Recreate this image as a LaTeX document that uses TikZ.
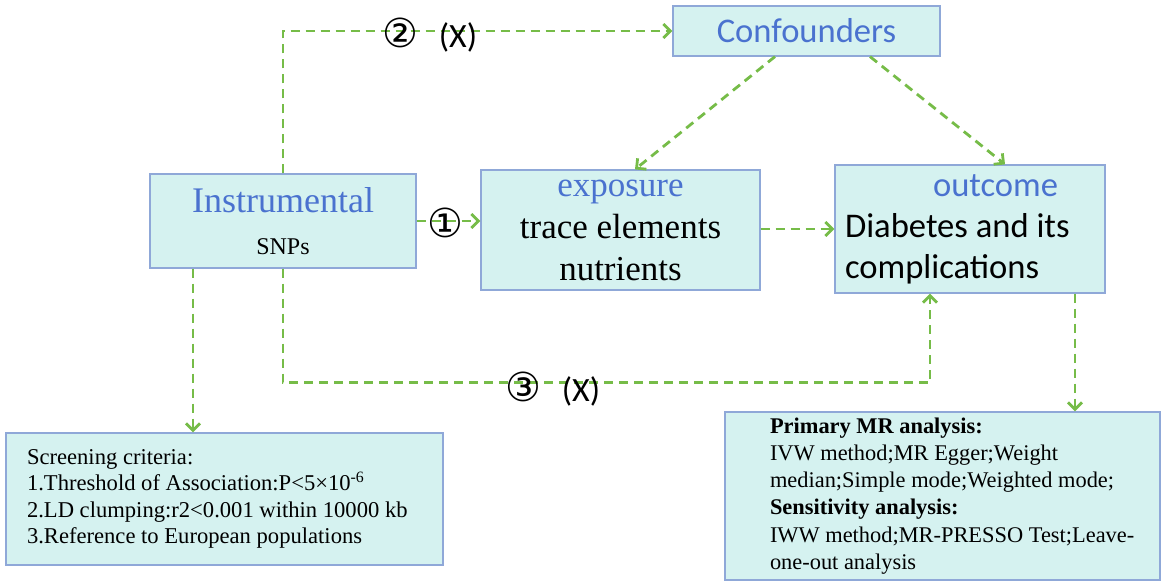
\documentclass[tikz,border=0pt]{standalone}
\usepackage{fontspec}
\setmainfont{Liberation Serif}
\newfontfamily\calibri{Carlito}
\newfontfamily\circfont{DejaVu Sans}
\usetikzlibrary{arrows.meta,calc,positioning}
\definecolor{boxfill}{HTML}{D5F2F0}
\definecolor{boxline}{HTML}{8FA8D8}
\definecolor{titleblue}{HTML}{4A72CF}
\definecolor{linkgreen}{HTML}{76BC48}

\begin{document}
\begin{tikzpicture}[>={Straight Barb[length=3.5pt,width=7pt]}, x=0.5pt, y=-0.5pt,
  box/.style={draw=boxline, fill=boxfill, line width=0.6pt, inner sep=0pt},
  link/.style={draw=linkgreen, line width=1.4pt, dash pattern=on 4.5pt off 3pt, ->},
  lbl/.style={font=\calibri\fontsize{17}{20}\selectfont, inner sep=0pt}]
  \useasboundingbox (0,0) rectangle (1170,587);
  % boxes
  \node[box, minimum width=133pt, minimum height=47pt, align=center,
    font=\fontsize{12}{21}\selectfont] (instr) at (283,221)
    {{\fontsize{18}{21}\selectfont\color{titleblue}Instrumental}\\{\fontsize{12}{21}\selectfont SNPs}};
  \node[box, minimum width=133.5pt, minimum height=25pt, text=titleblue,
    font=\calibri\fontsize{17.3}{20}\selectfont] (conf) at (806.5,31) {Confounders};
  \node[box, minimum width=139.5pt, minimum height=60pt, align=center,
    font=\fontsize{17.5}{21}\selectfont] (expo) at (620.5,230)
    {\textcolor{titleblue}{exposure}\\trace elements\\nutrients};
  \node[box, minimum width=135pt, minimum height=64pt, align=left, text width=125pt,
    font=\calibri\fontsize{17.3}{20.5}\selectfont] (outc) at (970,229)
    {\spaceskip=0pt\xspaceskip=0pt\hspace*{44pt}\textcolor{titleblue}{outcome}\\Diabetes and its\\complications};
  \node[box, inner xsep=10.5pt, text width=197.5pt, minimum height=66pt, align=left,
    font=\fontsize{11.3}{13.2}\selectfont] (screen) at (224.5,499)
    {\spaceskip=0pt\xspaceskip=0pt Screening criteria:\\1.Threshold of Association:P<5×10\textsuperscript{-6}\\2.LD clumping:r2<0.001 within 10000 kb\\3.Reference to European populations};
  \node[box, inner xsep=8.75pt, text width=200pt, minimum height=84pt, align=left,
    font=\fontsize{11.2}{13.6}\selectfont] (prim) at (942.5,496)
    {\spaceskip=0pt\xspaceskip=0pt\leftskip=13.75pt\textbf{Primary MR analysis:}\\IVW method;MR Egger;Weight\\median;Simple mode;Weighted mode;\\\textbf{Sensitivity analysis:}\\IWW method;MR-PRESSO Test;Leave-\\one-out analysis\par};
  % links
  \draw[link] (instr.north) |- (conf.west);
  \draw[link] (instr.east) -- (instr.east -| expo.west);
  \draw[link] ([xshift=-15.75pt]conf.south) -- ([xshift=7.25pt]expo.north);
  \draw[link] ([xshift=31.75pt]conf.south) -- ([xshift=17.5pt]outc.north);
  \draw[link] (outc.west -| expo.east) -- (outc.west);
  \draw[link] (instr.south) -- ++(0,114) -| ([xshift=-20pt]outc.south);
  \draw[link] ([xshift=-45pt]instr.south) -- ([xshift=-15.75pt]screen.north);
  \draw[link] ([xshift=52.5pt]outc.south) -- ([xshift=66.25pt]prim.north);
  % labels
  \node[lbl] (l2) at (430,35) {{\circfont\fontsize{20}{22}\selectfont ②}\hspace{10pt}(X)};
  \node[lbl] (l1) at (445,223) {{\circfont\fontsize{20}{22}\selectfont ①}};
  \node[lbl] (l3) at (553,389) {{\circfont\fontsize{20}{22}\selectfont ③}\hspace{10pt}(X)};
\end{tikzpicture}
\end{document}
